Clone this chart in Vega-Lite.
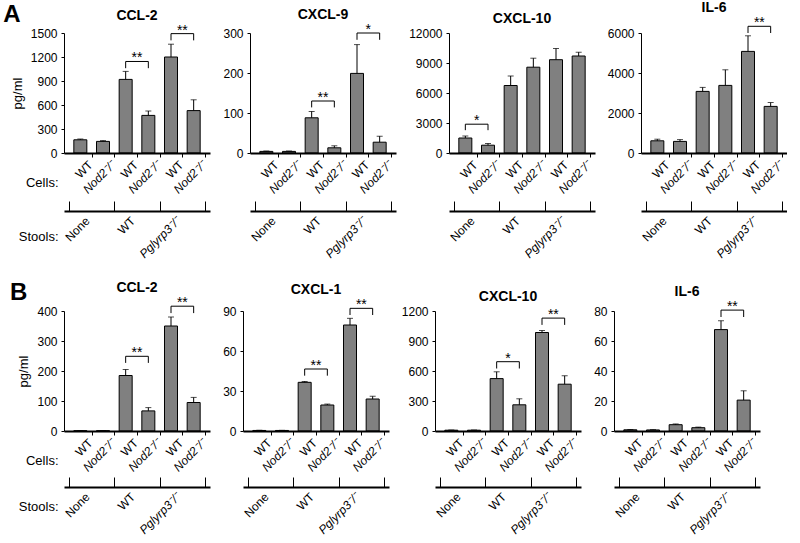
{
"$schema":"https://vega.github.io/schema/vega-lite/v6.json",
"padding":{"left":3,"top":1,"right":0,"bottom":0},
"config":{"font":"Liberation Sans","view":{"stroke":null},
 "axis":{"domainColor":"black","tickColor":"black","labelColor":"black","titleColor":"black","grid":false,"labelFontSize":12,"titleFontWeight":"normal","titleFontSize":13,"labelFlush":false,"labelOverlap":false,"labelBound":false},
 "axisX":{"domainColor":"black","domainWidth":2,"zindex":1},
 "title":{"fontSize":14,"fontWeight":"bold","color":"black","frame":"group","offset":1}},
"spacing":21,
"vconcat":[
{"title":{"text":"A","anchor":"start","frame":"bounds","fontSize":24,"fontWeight":"bold","offset":-26,"dx":-8},
 "spacing":12,
 "hconcat":[
 {"width":146,"height":120,"title":{"text":"CCL-2"},
  "data":{"values":[{"pos":1,"mean":165,"upper":175},{"pos":2,"mean":145,"upper":155},{"pos":3,"mean":920,"upper":1020},{"pos":4,"mean":470,"upper":525},{"pos":5,"mean":1200,"upper":1360},{"pos":6,"mean":530,"upper":665}]},
  "layer":[
   {"mark":{"type":"bar","orient":"vertical","size":13,"fill":"#808080","stroke":"black","strokeWidth":1},
    "encoding":{"x":{"field":"pos","type":"quantitative","scale":{"domain":[0.5,6.5],"nice":false,"zero":false},
      "axis":{"orient":"bottom","zindex":1,"values":[1.5,2.5,3.5,4.5,5.5,6.5],"labelExpr":"datum.value == 1.5 || datum.value == 3.5 || datum.value == 5.5 ? 'WT' : 'Nod2⁻/⁻'","labelFontStyle":{"condition":{"test":"datum.value == 1.5 || datum.value == 3.5 || datum.value == 5.5","value":"normal"},"value":"italic"},"labelAngle":-45,"labelAlign":"right","labelBaseline":"top","tickSize":4,"labelPadding":2,"labelOffset":-5,"domain":true,"domainColor":"black","domainWidth":2,"title":"Cells:","titleAngle":0,"titleAlign":"right","titleBaseline":"middle","titleX":-6,"titleY":29}},
     "y":{"field":"mean","type":"quantitative","scale":{"domain":[0,1500],"nice":false},"axis":{"orient":"left","values":[0,300,600,900,1200,1500],"format":"d","tickSize":3,"labelPadding":4,"domain":true,"title":"pg/ml","titlePadding":6}}}},
   {"mark":{"type":"rule","color":"black","strokeWidth":1},
    "encoding":{"x":{"field":"pos","type":"quantitative","scale":{"domain":[0.5,6.5],"nice":false,"zero":false},"axis":{"orient":"bottom","zindex":1,"offset":58,"values":[0.5,2.5,4.5,6.5],"labels":false,"tickSize":-10,"domain":true,"domainColor":"black","domainWidth":2,"title":"Stools:","titleAngle":0,"titleAlign":"right","titleBaseline":"middle","titleX":-6,"titleY":25}},
     "y":{"field":"mean","type":"quantitative","scale":{"domain":[0,1500],"nice":false},"axis":null},"y2":{"field":"upper"}}},
   {"mark":{"type":"tick","orient":"horizontal","size":6,"thickness":1,"color":"black"},
    "encoding":{"x":{"field":"pos","type":"quantitative","scale":{"domain":[0.5,6.5],"nice":false,"zero":false},"axis":{"orient":"bottom","zindex":1,"offset":58,"values":[1.5,3.5,5.5],"labelExpr":"datum.value == 1.5 ? 'None' : datum.value == 3.5 ? 'WT' : 'Pglyrp3⁻/⁻'","labelFontStyle":{"condition":{"test":"datum.value == 5.5","value":"italic"},"value":"normal"},"labelAngle":-45,"labelAlign":"right","labelBaseline":"top","ticks":false,"tickSize":0,"domain":false,"labelPadding":4,"labelOffset":-8,"title":null}},
     "y":{"field":"upper","type":"quantitative","scale":{"domain":[0,1500],"nice":false},"axis":null}}},
   {"data":{"values":[{"from":3,"to":4,"mid":3.5,"top":1144,"low":1060,"label":"**"},{"from":5,"to":6,"mid":5.5,"top":1492,"low":1408,"label":"**"}]},
    "layer":[
     {"mark":{"type":"rule","color":"black"},"encoding":{"x":{"field":"from","type":"quantitative","axis":null},"x2":{"field":"to"},"y":{"field":"top","type":"quantitative","axis":null}}},
     {"mark":{"type":"rule","color":"black"},"encoding":{"x":{"field":"from","type":"quantitative","axis":null},"y":{"field":"low","type":"quantitative","axis":null},"y2":{"field":"top"}}},
     {"mark":{"type":"rule","color":"black"},"encoding":{"x":{"field":"to","type":"quantitative","axis":null},"y":{"field":"low","type":"quantitative","axis":null},"y2":{"field":"top"}}},
     {"mark":{"type":"text","fontSize":14,"baseline":"alphabetic","dy":1,"color":"black"},"encoding":{"x":{"field":"mid","type":"quantitative","axis":null},"y":{"field":"top","type":"quantitative","axis":null},"text":{"field":"label"}}}
    ]}
  ],
  "resolve":{"axis":{"x":"independent","y":"independent"}}},
 {"width":146,"height":120,"title":{"text":"CXCL-9"},
  "data":{"values":[{"pos":1,"mean":4,"upper":5},{"pos":2,"mean":4,"upper":5},{"pos":3,"mean":88,"upper":104},{"pos":4,"mean":13,"upper":18},{"pos":5,"mean":199,"upper":271},{"pos":6,"mean":27,"upper":42}]},
  "layer":[
   {"mark":{"type":"bar","orient":"vertical","size":13,"fill":"#808080","stroke":"black","strokeWidth":1},
    "encoding":{"x":{"field":"pos","type":"quantitative","scale":{"domain":[0.5,6.5],"nice":false,"zero":false},
      "axis":{"orient":"bottom","zindex":1,"values":[1.5,2.5,3.5,4.5,5.5,6.5],"labelExpr":"datum.value == 1.5 || datum.value == 3.5 || datum.value == 5.5 ? 'WT' : 'Nod2⁻/⁻'","labelFontStyle":{"condition":{"test":"datum.value == 1.5 || datum.value == 3.5 || datum.value == 5.5","value":"normal"},"value":"italic"},"labelAngle":-45,"labelAlign":"right","labelBaseline":"top","tickSize":4,"labelPadding":2,"labelOffset":-5,"domain":true,"domainColor":"black","domainWidth":2,"title":null}},
     "y":{"field":"mean","type":"quantitative","scale":{"domain":[0,300],"nice":false},"axis":{"orient":"left","values":[0,100,200,300],"format":"d","tickSize":3,"labelPadding":4,"domain":true,"title":null}}}},
   {"mark":{"type":"rule","color":"black","strokeWidth":1},
    "encoding":{"x":{"field":"pos","type":"quantitative","scale":{"domain":[0.5,6.5],"nice":false,"zero":false},"axis":{"orient":"bottom","zindex":1,"offset":58,"values":[0.5,2.5,4.5,6.5],"labels":false,"tickSize":-10,"domain":true,"domainColor":"black","domainWidth":2,"title":null}},
     "y":{"field":"mean","type":"quantitative","scale":{"domain":[0,300],"nice":false},"axis":null},"y2":{"field":"upper"}}},
   {"mark":{"type":"tick","orient":"horizontal","size":6,"thickness":1,"color":"black"},
    "encoding":{"x":{"field":"pos","type":"quantitative","scale":{"domain":[0.5,6.5],"nice":false,"zero":false},"axis":{"orient":"bottom","zindex":1,"offset":58,"values":[1.5,3.5,5.5],"labelExpr":"datum.value == 1.5 ? 'None' : datum.value == 3.5 ? 'WT' : 'Pglyrp3⁻/⁻'","labelFontStyle":{"condition":{"test":"datum.value == 5.5","value":"italic"},"value":"normal"},"labelAngle":-45,"labelAlign":"right","labelBaseline":"top","ticks":false,"tickSize":0,"domain":false,"labelPadding":4,"labelOffset":-8,"title":null}},
     "y":{"field":"upper","type":"quantitative","scale":{"domain":[0,300],"nice":false},"axis":null}}},
   {"data":{"values":[{"from":3,"to":4,"mid":3.5,"top":130,"low":114,"label":"**"},{"from":5,"to":6,"mid":5.5,"top":300,"low":283,"label":"*"}]},
    "layer":[
     {"mark":{"type":"rule","color":"black"},"encoding":{"x":{"field":"from","type":"quantitative","axis":null},"x2":{"field":"to"},"y":{"field":"top","type":"quantitative","axis":null}}},
     {"mark":{"type":"rule","color":"black"},"encoding":{"x":{"field":"from","type":"quantitative","axis":null},"y":{"field":"low","type":"quantitative","axis":null},"y2":{"field":"top"}}},
     {"mark":{"type":"rule","color":"black"},"encoding":{"x":{"field":"to","type":"quantitative","axis":null},"y":{"field":"low","type":"quantitative","axis":null},"y2":{"field":"top"}}},
     {"mark":{"type":"text","fontSize":14,"baseline":"alphabetic","dy":1,"color":"black"},"encoding":{"x":{"field":"mid","type":"quantitative","axis":null},"y":{"field":"top","type":"quantitative","axis":null},"text":{"field":"label"}}}
    ]}
  ],
  "resolve":{"axis":{"x":"independent","y":"independent"}}},
 {"width":146,"height":120,"title":{"text":"CXCL-10"},
  "data":{"values":[{"pos":1,"mean":1500,"upper":1700},{"pos":2,"mean":780,"upper":950},{"pos":3,"mean":6750,"upper":7700},{"pos":4,"mean":8580,"upper":9480},{"pos":5,"mean":9330,"upper":10450},{"pos":6,"mean":9700,"upper":10080}]},
  "layer":[
   {"mark":{"type":"bar","orient":"vertical","size":13,"fill":"#808080","stroke":"black","strokeWidth":1},
    "encoding":{"x":{"field":"pos","type":"quantitative","scale":{"domain":[0.5,6.5],"nice":false,"zero":false},
      "axis":{"orient":"bottom","zindex":1,"values":[1.5,2.5,3.5,4.5,5.5,6.5],"labelExpr":"datum.value == 1.5 || datum.value == 3.5 || datum.value == 5.5 ? 'WT' : 'Nod2⁻/⁻'","labelFontStyle":{"condition":{"test":"datum.value == 1.5 || datum.value == 3.5 || datum.value == 5.5","value":"normal"},"value":"italic"},"labelAngle":-45,"labelAlign":"right","labelBaseline":"top","tickSize":4,"labelPadding":2,"labelOffset":-5,"domain":true,"domainColor":"black","domainWidth":2,"title":null}},
     "y":{"field":"mean","type":"quantitative","scale":{"domain":[0,12000],"nice":false},"axis":{"orient":"left","values":[0,3000,6000,9000,12000],"format":"d","tickSize":3,"labelPadding":4,"domain":true,"title":null}}}},
   {"mark":{"type":"rule","color":"black","strokeWidth":1},
    "encoding":{"x":{"field":"pos","type":"quantitative","scale":{"domain":[0.5,6.5],"nice":false,"zero":false},"axis":{"orient":"bottom","zindex":1,"offset":58,"values":[0.5,2.5,4.5,6.5],"labels":false,"tickSize":-10,"domain":true,"domainColor":"black","domainWidth":2,"title":null}},
     "y":{"field":"mean","type":"quantitative","scale":{"domain":[0,12000],"nice":false},"axis":null},"y2":{"field":"upper"}}},
   {"mark":{"type":"tick","orient":"horizontal","size":6,"thickness":1,"color":"black"},
    "encoding":{"x":{"field":"pos","type":"quantitative","scale":{"domain":[0.5,6.5],"nice":false,"zero":false},"axis":{"orient":"bottom","zindex":1,"offset":58,"values":[1.5,3.5,5.5],"labelExpr":"datum.value == 1.5 ? 'None' : datum.value == 3.5 ? 'WT' : 'Pglyrp3⁻/⁻'","labelFontStyle":{"condition":{"test":"datum.value == 5.5","value":"italic"},"value":"normal"},"labelAngle":-45,"labelAlign":"right","labelBaseline":"top","ticks":false,"tickSize":0,"domain":false,"labelPadding":4,"labelOffset":-8,"title":null}},
     "y":{"field":"upper","type":"quantitative","scale":{"domain":[0,12000],"nice":false},"axis":null}}},
   {"data":{"values":[{"from":1,"to":2,"mid":1.5,"top":2880,"low":2280,"label":"*"}]},
    "layer":[
     {"mark":{"type":"rule","color":"black"},"encoding":{"x":{"field":"from","type":"quantitative","axis":null},"x2":{"field":"to"},"y":{"field":"top","type":"quantitative","axis":null}}},
     {"mark":{"type":"rule","color":"black"},"encoding":{"x":{"field":"from","type":"quantitative","axis":null},"y":{"field":"low","type":"quantitative","axis":null},"y2":{"field":"top"}}},
     {"mark":{"type":"rule","color":"black"},"encoding":{"x":{"field":"to","type":"quantitative","axis":null},"y":{"field":"low","type":"quantitative","axis":null},"y2":{"field":"top"}}},
     {"mark":{"type":"text","fontSize":14,"baseline":"alphabetic","dy":1,"color":"black"},"encoding":{"x":{"field":"mid","type":"quantitative","axis":null},"y":{"field":"top","type":"quantitative","axis":null},"text":{"field":"label"}}}
    ]}
  ],
  "resolve":{"axis":{"x":"independent","y":"independent"}}},
 {"width":146,"height":120,"title":{"text":"IL-6"},
  "data":{"values":[{"pos":1,"mean":610,"upper":690},{"pos":2,"mean":580,"upper":670},{"pos":3,"mean":3080,"upper":3280},{"pos":4,"mean":3380,"upper":4160},{"pos":5,"mean":5080,"upper":5860},{"pos":6,"mean":2330,"upper":2520}]},
  "layer":[
   {"mark":{"type":"bar","orient":"vertical","size":13,"fill":"#808080","stroke":"black","strokeWidth":1},
    "encoding":{"x":{"field":"pos","type":"quantitative","scale":{"domain":[0.5,6.5],"nice":false,"zero":false},
      "axis":{"orient":"bottom","zindex":1,"values":[1.5,2.5,3.5,4.5,5.5,6.5],"labelExpr":"datum.value == 1.5 || datum.value == 3.5 || datum.value == 5.5 ? 'WT' : 'Nod2⁻/⁻'","labelFontStyle":{"condition":{"test":"datum.value == 1.5 || datum.value == 3.5 || datum.value == 5.5","value":"normal"},"value":"italic"},"labelAngle":-45,"labelAlign":"right","labelBaseline":"top","tickSize":4,"labelPadding":2,"labelOffset":-5,"domain":true,"domainColor":"black","domainWidth":2,"title":null}},
     "y":{"field":"mean","type":"quantitative","scale":{"domain":[0,6000],"nice":false},"axis":{"orient":"left","values":[0,2000,4000,6000],"format":"d","tickSize":3,"labelPadding":4,"domain":true,"title":null}}}},
   {"mark":{"type":"rule","color":"black","strokeWidth":1},
    "encoding":{"x":{"field":"pos","type":"quantitative","scale":{"domain":[0.5,6.5],"nice":false,"zero":false},"axis":{"orient":"bottom","zindex":1,"offset":58,"values":[0.5,2.5,4.5,6.5],"labels":false,"tickSize":-10,"domain":true,"domainColor":"black","domainWidth":2,"title":null}},
     "y":{"field":"mean","type":"quantitative","scale":{"domain":[0,6000],"nice":false},"axis":null},"y2":{"field":"upper"}}},
   {"mark":{"type":"tick","orient":"horizontal","size":6,"thickness":1,"color":"black"},
    "encoding":{"x":{"field":"pos","type":"quantitative","scale":{"domain":[0.5,6.5],"nice":false,"zero":false},"axis":{"orient":"bottom","zindex":1,"offset":58,"values":[1.5,3.5,5.5],"labelExpr":"datum.value == 1.5 ? 'None' : datum.value == 3.5 ? 'WT' : 'Pglyrp3⁻/⁻'","labelFontStyle":{"condition":{"test":"datum.value == 5.5","value":"italic"},"value":"normal"},"labelAngle":-45,"labelAlign":"right","labelBaseline":"top","ticks":false,"tickSize":0,"domain":false,"labelPadding":4,"labelOffset":-8,"title":null}},
     "y":{"field":"upper","type":"quantitative","scale":{"domain":[0,6000],"nice":false},"axis":null}}},
   {"data":{"values":[{"from":5,"to":6,"mid":5.5,"top":6335,"low":6000,"label":"**"}]},
    "layer":[
     {"mark":{"type":"rule","color":"black"},"encoding":{"x":{"field":"from","type":"quantitative","axis":null},"x2":{"field":"to"},"y":{"field":"top","type":"quantitative","axis":null}}},
     {"mark":{"type":"rule","color":"black"},"encoding":{"x":{"field":"from","type":"quantitative","axis":null},"y":{"field":"low","type":"quantitative","axis":null},"y2":{"field":"top"}}},
     {"mark":{"type":"rule","color":"black"},"encoding":{"x":{"field":"to","type":"quantitative","axis":null},"y":{"field":"low","type":"quantitative","axis":null},"y2":{"field":"top"}}},
     {"mark":{"type":"text","fontSize":14,"baseline":"alphabetic","dy":1,"color":"black"},"encoding":{"x":{"field":"mid","type":"quantitative","axis":null},"y":{"field":"top","type":"quantitative","axis":null},"text":{"field":"label"}}}
    ]}
  ],
  "resolve":{"axis":{"x":"independent","y":"independent"}}}
 ]},
{"title":{"text":"B","anchor":"start","frame":"bounds","fontSize":24,"fontWeight":"bold","offset":-24,"dx":-8},
 "spacing":12,
 "hconcat":[
 {"width":146,"height":120,"title":{"text":"CCL-2"},
  "data":{"values":[{"pos":1,"mean":1,"upper":1.5},{"pos":2,"mean":1,"upper":1.5},{"pos":3,"mean":185,"upper":205},{"pos":4,"mean":67,"upper":78},{"pos":5,"mean":350,"upper":380},{"pos":6,"mean":95,"upper":112}]},
  "layer":[
   {"mark":{"type":"bar","orient":"vertical","size":13,"fill":"#808080","stroke":"black","strokeWidth":1},
    "encoding":{"x":{"field":"pos","type":"quantitative","scale":{"domain":[0.5,6.5],"nice":false,"zero":false},
      "axis":{"orient":"bottom","zindex":1,"values":[1.5,2.5,3.5,4.5,5.5,6.5],"labelExpr":"datum.value == 1.5 || datum.value == 3.5 || datum.value == 5.5 ? 'WT' : 'Nod2⁻/⁻'","labelFontStyle":{"condition":{"test":"datum.value == 1.5 || datum.value == 3.5 || datum.value == 5.5","value":"normal"},"value":"italic"},"labelAngle":-45,"labelAlign":"right","labelBaseline":"top","tickSize":4,"labelPadding":2,"labelOffset":-5,"domain":true,"domainColor":"black","domainWidth":2,"title":"Cells:","titleAngle":0,"titleAlign":"right","titleBaseline":"middle","titleX":-6,"titleY":29}},
     "y":{"field":"mean","type":"quantitative","scale":{"domain":[0,400],"nice":false},"axis":{"orient":"left","values":[0,100,200,300,400],"format":"d","tickSize":3,"labelPadding":4,"domain":true,"title":"pg/ml","titlePadding":6}}}},
   {"mark":{"type":"rule","color":"black","strokeWidth":1},
    "encoding":{"x":{"field":"pos","type":"quantitative","scale":{"domain":[0.5,6.5],"nice":false,"zero":false},"axis":{"orient":"bottom","zindex":1,"offset":56,"values":[0.5,2.5,4.5,6.5],"labels":false,"tickSize":-10,"domain":true,"domainColor":"black","domainWidth":2,"title":"Stools:","titleAngle":0,"titleAlign":"right","titleBaseline":"middle","titleX":-6,"titleY":19}},
     "y":{"field":"mean","type":"quantitative","scale":{"domain":[0,400],"nice":false},"axis":null},"y2":{"field":"upper"}}},
   {"mark":{"type":"tick","orient":"horizontal","size":6,"thickness":1,"color":"black"},
    "encoding":{"x":{"field":"pos","type":"quantitative","scale":{"domain":[0.5,6.5],"nice":false,"zero":false},"axis":{"orient":"bottom","zindex":1,"offset":56,"values":[1.5,3.5,5.5],"labelExpr":"datum.value == 1.5 ? 'None' : datum.value == 3.5 ? 'WT' : 'Pglyrp3⁻/⁻'","labelFontStyle":{"condition":{"test":"datum.value == 5.5","value":"italic"},"value":"normal"},"labelAngle":-45,"labelAlign":"right","labelBaseline":"top","ticks":false,"tickSize":0,"domain":false,"labelPadding":4,"labelOffset":-8,"title":null}},
     "y":{"field":"upper","type":"quantitative","scale":{"domain":[0,400],"nice":false},"axis":null}}},
   {"data":{"values":[{"from":3,"to":4,"mid":3.5,"top":249,"low":227,"label":"**"},{"from":5,"to":6,"mid":5.5,"top":416,"low":393,"label":"**"}]},
    "layer":[
     {"mark":{"type":"rule","color":"black"},"encoding":{"x":{"field":"from","type":"quantitative","axis":null},"x2":{"field":"to"},"y":{"field":"top","type":"quantitative","axis":null}}},
     {"mark":{"type":"rule","color":"black"},"encoding":{"x":{"field":"from","type":"quantitative","axis":null},"y":{"field":"low","type":"quantitative","axis":null},"y2":{"field":"top"}}},
     {"mark":{"type":"rule","color":"black"},"encoding":{"x":{"field":"to","type":"quantitative","axis":null},"y":{"field":"low","type":"quantitative","axis":null},"y2":{"field":"top"}}},
     {"mark":{"type":"text","fontSize":14,"baseline":"alphabetic","dy":1,"color":"black"},"encoding":{"x":{"field":"mid","type":"quantitative","axis":null},"y":{"field":"top","type":"quantitative","axis":null},"text":{"field":"label"}}}
    ]}
  ],
  "resolve":{"axis":{"x":"independent","y":"independent"}}},
 {"width":146,"height":120,"title":{"text":"CXCL-1"},
  "data":{"values":[{"pos":1,"mean":0.4,"upper":0.5},{"pos":2,"mean":0.4,"upper":0.5},{"pos":3,"mean":36.5,"upper":37.2},{"pos":4,"mean":19.5,"upper":20.2},{"pos":5,"mean":79.5,"upper":84.5},{"pos":6,"mean":24,"upper":26}]},
  "layer":[
   {"mark":{"type":"bar","orient":"vertical","size":13,"fill":"#808080","stroke":"black","strokeWidth":1},
    "encoding":{"x":{"field":"pos","type":"quantitative","scale":{"domain":[0.5,6.5],"nice":false,"zero":false},
      "axis":{"orient":"bottom","zindex":1,"values":[1.5,2.5,3.5,4.5,5.5,6.5],"labelExpr":"datum.value == 1.5 || datum.value == 3.5 || datum.value == 5.5 ? 'WT' : 'Nod2⁻/⁻'","labelFontStyle":{"condition":{"test":"datum.value == 1.5 || datum.value == 3.5 || datum.value == 5.5","value":"normal"},"value":"italic"},"labelAngle":-45,"labelAlign":"right","labelBaseline":"top","tickSize":4,"labelPadding":2,"labelOffset":-5,"domain":true,"domainColor":"black","domainWidth":2,"title":null}},
     "y":{"field":"mean","type":"quantitative","scale":{"domain":[0,90],"nice":false},"axis":{"orient":"left","values":[0,30,60,90],"format":"d","tickSize":3,"labelPadding":4,"domain":true,"title":null}}}},
   {"mark":{"type":"rule","color":"black","strokeWidth":1},
    "encoding":{"x":{"field":"pos","type":"quantitative","scale":{"domain":[0.5,6.5],"nice":false,"zero":false},"axis":{"orient":"bottom","zindex":1,"offset":56,"values":[0.5,2.5,4.5,6.5],"labels":false,"tickSize":-10,"domain":true,"domainColor":"black","domainWidth":2,"title":null}},
     "y":{"field":"mean","type":"quantitative","scale":{"domain":[0,90],"nice":false},"axis":null},"y2":{"field":"upper"}}},
   {"mark":{"type":"tick","orient":"horizontal","size":6,"thickness":1,"color":"black"},
    "encoding":{"x":{"field":"pos","type":"quantitative","scale":{"domain":[0.5,6.5],"nice":false,"zero":false},"axis":{"orient":"bottom","zindex":1,"offset":56,"values":[1.5,3.5,5.5],"labelExpr":"datum.value == 1.5 ? 'None' : datum.value == 3.5 ? 'WT' : 'Pglyrp3⁻/⁻'","labelFontStyle":{"condition":{"test":"datum.value == 5.5","value":"italic"},"value":"normal"},"labelAngle":-45,"labelAlign":"right","labelBaseline":"top","ticks":false,"tickSize":0,"domain":false,"labelPadding":4,"labelOffset":-8,"title":null}},
     "y":{"field":"upper","type":"quantitative","scale":{"domain":[0,90],"nice":false},"axis":null}}},
   {"data":{"values":[{"from":3,"to":4,"mid":3.5,"top":46.5,"low":41.5,"label":"**"},{"from":5,"to":6,"mid":5.5,"top":92,"low":87,"label":"**"}]},
    "layer":[
     {"mark":{"type":"rule","color":"black"},"encoding":{"x":{"field":"from","type":"quantitative","axis":null},"x2":{"field":"to"},"y":{"field":"top","type":"quantitative","axis":null}}},
     {"mark":{"type":"rule","color":"black"},"encoding":{"x":{"field":"from","type":"quantitative","axis":null},"y":{"field":"low","type":"quantitative","axis":null},"y2":{"field":"top"}}},
     {"mark":{"type":"rule","color":"black"},"encoding":{"x":{"field":"to","type":"quantitative","axis":null},"y":{"field":"low","type":"quantitative","axis":null},"y2":{"field":"top"}}},
     {"mark":{"type":"text","fontSize":14,"baseline":"alphabetic","dy":1,"color":"black"},"encoding":{"x":{"field":"mid","type":"quantitative","axis":null},"y":{"field":"top","type":"quantitative","axis":null},"text":{"field":"label"}}}
    ]}
  ],
  "resolve":{"axis":{"x":"independent","y":"independent"}}},
 {"width":146,"height":120,"title":{"text":"CXCL-10"},
  "data":{"values":[{"pos":1,"mean":8,"upper":10},{"pos":2,"mean":8,"upper":10},{"pos":3,"mean":524,"upper":592},{"pos":4,"mean":262,"upper":322},{"pos":5,"mean":985,"upper":1005},{"pos":6,"mean":468,"upper":552}]},
  "layer":[
   {"mark":{"type":"bar","orient":"vertical","size":13,"fill":"#808080","stroke":"black","strokeWidth":1},
    "encoding":{"x":{"field":"pos","type":"quantitative","scale":{"domain":[0.5,6.5],"nice":false,"zero":false},
      "axis":{"orient":"bottom","zindex":1,"values":[1.5,2.5,3.5,4.5,5.5,6.5],"labelExpr":"datum.value == 1.5 || datum.value == 3.5 || datum.value == 5.5 ? 'WT' : 'Nod2⁻/⁻'","labelFontStyle":{"condition":{"test":"datum.value == 1.5 || datum.value == 3.5 || datum.value == 5.5","value":"normal"},"value":"italic"},"labelAngle":-45,"labelAlign":"right","labelBaseline":"top","tickSize":4,"labelPadding":2,"labelOffset":-5,"domain":true,"domainColor":"black","domainWidth":2,"title":null}},
     "y":{"field":"mean","type":"quantitative","scale":{"domain":[0,1200],"nice":false},"axis":{"orient":"left","values":[0,300,600,900,1200],"format":"d","tickSize":3,"labelPadding":4,"domain":true,"title":null}}}},
   {"mark":{"type":"rule","color":"black","strokeWidth":1},
    "encoding":{"x":{"field":"pos","type":"quantitative","scale":{"domain":[0.5,6.5],"nice":false,"zero":false},"axis":{"orient":"bottom","zindex":1,"offset":56,"values":[0.5,2.5,4.5,6.5],"labels":false,"tickSize":-10,"domain":true,"domainColor":"black","domainWidth":2,"title":null}},
     "y":{"field":"mean","type":"quantitative","scale":{"domain":[0,1200],"nice":false},"axis":null},"y2":{"field":"upper"}}},
   {"mark":{"type":"tick","orient":"horizontal","size":6,"thickness":1,"color":"black"},
    "encoding":{"x":{"field":"pos","type":"quantitative","scale":{"domain":[0.5,6.5],"nice":false,"zero":false},"axis":{"orient":"bottom","zindex":1,"offset":56,"values":[1.5,3.5,5.5],"labelExpr":"datum.value == 1.5 ? 'None' : datum.value == 3.5 ? 'WT' : 'Pglyrp3⁻/⁻'","labelFontStyle":{"condition":{"test":"datum.value == 5.5","value":"italic"},"value":"normal"},"labelAngle":-45,"labelAlign":"right","labelBaseline":"top","ticks":false,"tickSize":0,"domain":false,"labelPadding":4,"labelOffset":-8,"title":null}},
     "y":{"field":"upper","type":"quantitative","scale":{"domain":[0,1200],"nice":false},"axis":null}}},
   {"data":{"values":[{"from":3,"to":4,"mid":3.5,"top":693,"low":625,"label":"*"},{"from":5,"to":6,"mid":5.5,"top":1129,"low":1061,"label":"**"}]},
    "layer":[
     {"mark":{"type":"rule","color":"black"},"encoding":{"x":{"field":"from","type":"quantitative","axis":null},"x2":{"field":"to"},"y":{"field":"top","type":"quantitative","axis":null}}},
     {"mark":{"type":"rule","color":"black"},"encoding":{"x":{"field":"from","type":"quantitative","axis":null},"y":{"field":"low","type":"quantitative","axis":null},"y2":{"field":"top"}}},
     {"mark":{"type":"rule","color":"black"},"encoding":{"x":{"field":"to","type":"quantitative","axis":null},"y":{"field":"low","type":"quantitative","axis":null},"y2":{"field":"top"}}},
     {"mark":{"type":"text","fontSize":14,"baseline":"alphabetic","dy":1,"color":"black"},"encoding":{"x":{"field":"mid","type":"quantitative","axis":null},"y":{"field":"top","type":"quantitative","axis":null},"text":{"field":"label"}}}
    ]}
  ],
  "resolve":{"axis":{"x":"independent","y":"independent"}}},
 {"width":146,"height":120,"title":{"text":"IL-6"},
  "data":{"values":[{"pos":1,"mean":0.8,"upper":1},{"pos":2,"mean":0.7,"upper":0.9},{"pos":3,"mean":4.2,"upper":4.7},{"pos":4,"mean":2.2,"upper":2.6},{"pos":5,"mean":67.6,"upper":73.5},{"pos":6,"mean":20.6,"upper":26.8}]},
  "layer":[
   {"mark":{"type":"bar","orient":"vertical","size":13,"fill":"#808080","stroke":"black","strokeWidth":1},
    "encoding":{"x":{"field":"pos","type":"quantitative","scale":{"domain":[0.5,6.5],"nice":false,"zero":false},
      "axis":{"orient":"bottom","zindex":1,"values":[1.5,2.5,3.5,4.5,5.5,6.5],"labelExpr":"datum.value == 1.5 || datum.value == 3.5 || datum.value == 5.5 ? 'WT' : 'Nod2⁻/⁻'","labelFontStyle":{"condition":{"test":"datum.value == 1.5 || datum.value == 3.5 || datum.value == 5.5","value":"normal"},"value":"italic"},"labelAngle":-45,"labelAlign":"right","labelBaseline":"top","tickSize":4,"labelPadding":2,"labelOffset":-5,"domain":true,"domainColor":"black","domainWidth":2,"title":null}},
     "y":{"field":"mean","type":"quantitative","scale":{"domain":[0,80],"nice":false},"axis":{"orient":"left","values":[0,20,40,60,80],"format":"d","tickSize":3,"labelPadding":4,"domain":true,"title":null}}}},
   {"mark":{"type":"rule","color":"black","strokeWidth":1},
    "encoding":{"x":{"field":"pos","type":"quantitative","scale":{"domain":[0.5,6.5],"nice":false,"zero":false},"axis":{"orient":"bottom","zindex":1,"offset":56,"values":[0.5,2.5,4.5,6.5],"labels":false,"tickSize":-10,"domain":true,"domainColor":"black","domainWidth":2,"title":null}},
     "y":{"field":"mean","type":"quantitative","scale":{"domain":[0,80],"nice":false},"axis":null},"y2":{"field":"upper"}}},
   {"mark":{"type":"tick","orient":"horizontal","size":6,"thickness":1,"color":"black"},
    "encoding":{"x":{"field":"pos","type":"quantitative","scale":{"domain":[0.5,6.5],"nice":false,"zero":false},"axis":{"orient":"bottom","zindex":1,"offset":56,"values":[1.5,3.5,5.5],"labelExpr":"datum.value == 1.5 ? 'None' : datum.value == 3.5 ? 'WT' : 'Pglyrp3⁻/⁻'","labelFontStyle":{"condition":{"test":"datum.value == 5.5","value":"italic"},"value":"normal"},"labelAngle":-45,"labelAlign":"right","labelBaseline":"top","ticks":false,"tickSize":0,"domain":false,"labelPadding":4,"labelOffset":-8,"title":null}},
     "y":{"field":"upper","type":"quantitative","scale":{"domain":[0,80],"nice":false},"axis":null}}},
   {"data":{"values":[{"from":5,"to":6,"mid":5.5,"top":80.6,"low":76,"label":"**"}]},
    "layer":[
     {"mark":{"type":"rule","color":"black"},"encoding":{"x":{"field":"from","type":"quantitative","axis":null},"x2":{"field":"to"},"y":{"field":"top","type":"quantitative","axis":null}}},
     {"mark":{"type":"rule","color":"black"},"encoding":{"x":{"field":"from","type":"quantitative","axis":null},"y":{"field":"low","type":"quantitative","axis":null},"y2":{"field":"top"}}},
     {"mark":{"type":"rule","color":"black"},"encoding":{"x":{"field":"to","type":"quantitative","axis":null},"y":{"field":"low","type":"quantitative","axis":null},"y2":{"field":"top"}}},
     {"mark":{"type":"text","fontSize":14,"baseline":"alphabetic","dy":1,"color":"black"},"encoding":{"x":{"field":"mid","type":"quantitative","axis":null},"y":{"field":"top","type":"quantitative","axis":null},"text":{"field":"label"}}}
    ]}
  ],
  "resolve":{"axis":{"x":"independent","y":"independent"}}}
 ]}
]
}
